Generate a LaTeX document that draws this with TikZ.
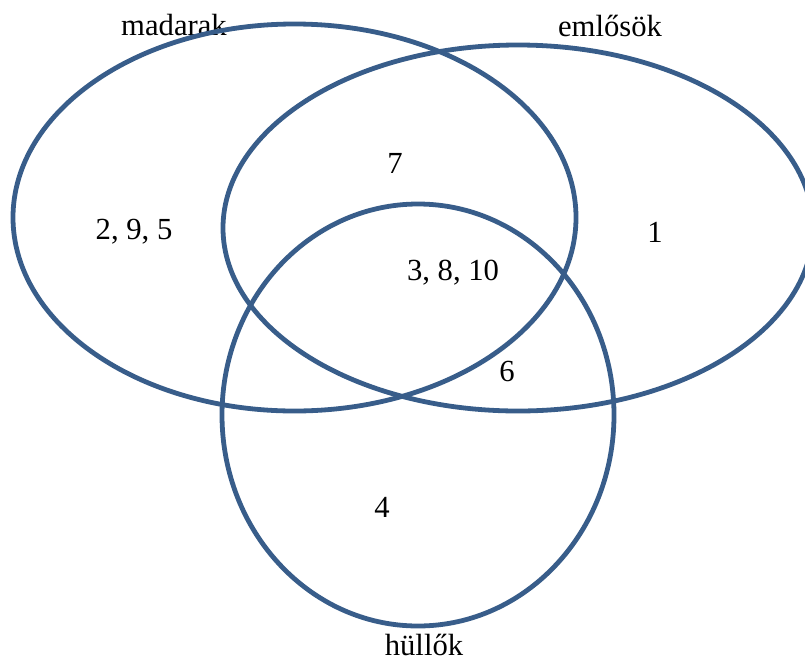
\documentclass[tikz,border=0pt]{standalone}
\usepackage{fontspec}
\setmainfont{Liberation Serif}
\definecolor{setblue}{RGB}{56,93,138}
\begin{document}
\begin{tikzpicture}[x=0.75pt, y=-0.75pt,
			every node/.style = {inner sep=0pt, font=\fontsize{23}{27}\selectfont},
			set/.style = {draw=setblue, line width=3.6pt}]
	\useasboundingbox (0,0) rectangle (805,661);
	% set names
	\node (madarak) at (174,25) {madarak};
	\node (emlosok) at (610,26) {emlősök};
	\node (hullok) at (424,645) {hüllők};
	% the three sets
	\coordinate (madarakc) at (294.5,217.5);
	\coordinate (emlosokc) at (518,228);
	\coordinate (hullokc) at (418,415);
	\draw[set] (madarakc) ellipse [x radius=281.5, y radius=193.5];
	\draw[set] (emlosokc) ellipse [x radius=295, y radius=183];
	\draw[set] (hullokc) ellipse [x radius=196, y radius=211];
	% elements
	\node (m) at (134,232) {2, 9, 5};
	\node (me) at (395,163) {7};
	\node (e) at (655,232) {1};
	\node (meh) at (453,273) {3, 8, 10};
	\node (eh) at (507,371) {6};
	\node (h) at (382,507) {4};
\end{tikzpicture}
\end{document}
